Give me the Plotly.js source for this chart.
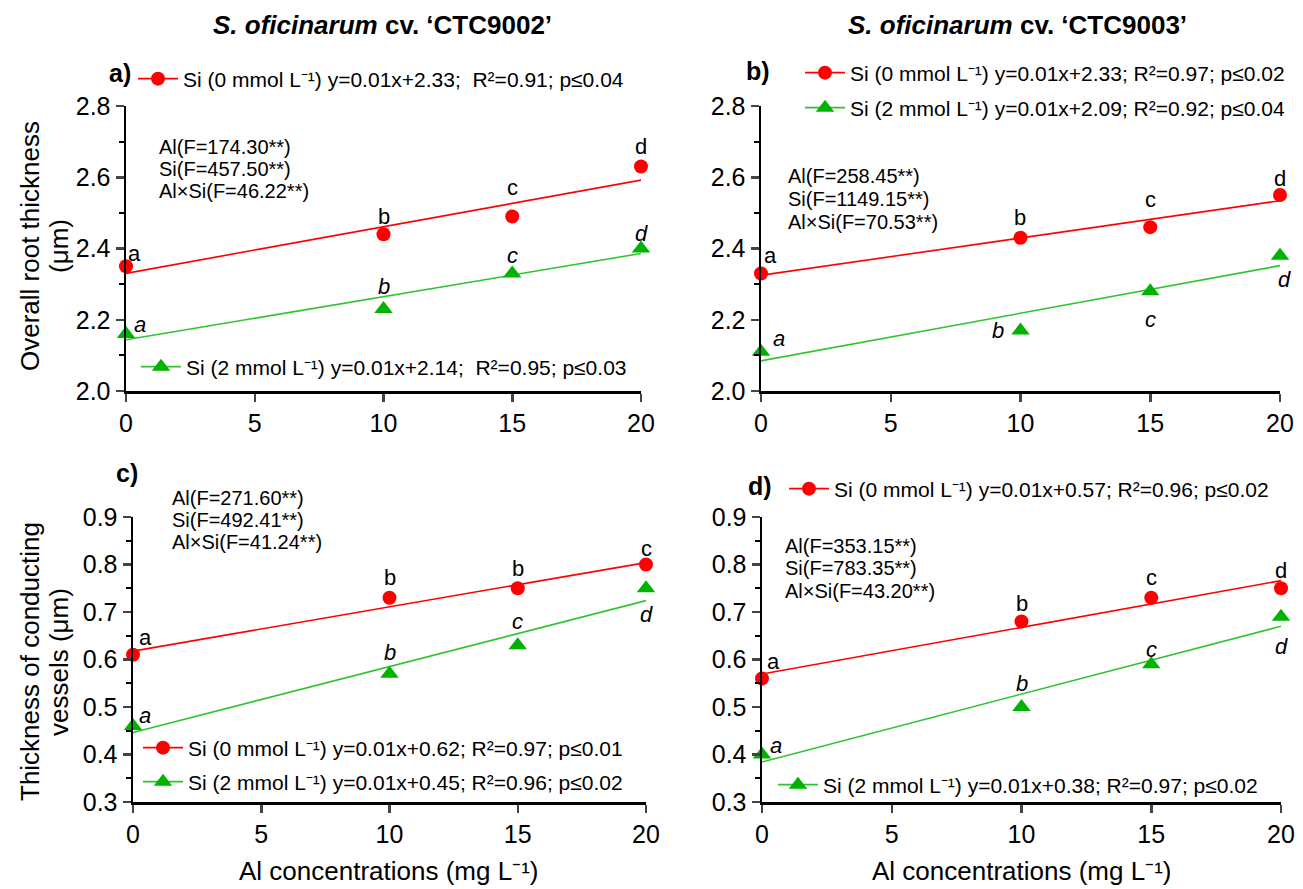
<!DOCTYPE html>
<html>
<head>
<meta charset="utf-8">
<script src="https://cdn.plot.ly/plotly-3.0.1.min.js"></script>
<style>html,body{margin:0;padding:0;background:#fff;}#chart{width:1303px;height:889px;}</style>
</head>
<body>
<div id="chart"></div>
<script>
// ---------------- DATA ----------------
const alConc = [0, 10, 15, 20];                       // Al concentrations (mg L-1)
// a) CTC9002 – overall root thickness (µm)
const root9002_Si0 = [2.35, 2.44, 2.49, 2.63];
const root9002_Si2 = [2.16, 2.23, 2.33, 2.40];
// b) CTC9003 – overall root thickness (µm)
const root9003_Si0 = [2.33, 2.43, 2.46, 2.55];
const root9003_Si2 = [2.11, 2.17, 2.28, 2.38];
// c) CTC9002 – thickness of conducting vessels (µm)
const vess9002_Si0 = [0.61, 0.73, 0.75, 0.80];
const vess9002_Si2 = [0.46, 0.57, 0.63, 0.75];
// d) CTC9003 – thickness of conducting vessels (µm)
const vess9003_Si0 = [0.56, 0.68, 0.73, 0.75];
const vess9003_Si2 = [0.40, 0.50, 0.59, 0.69];

// significance letters
const letA_Si0 = ['a','b','c','d'];
const letA_Si2 = ['a','b','c','d'];
const letB_Si0 = ['a','b','c','d'];
const letB_Si2 = ['a','b','c','d'];
const letC_Si0 = ['a','b','b','c'];
const letC_Si2 = ['a','b','c','d'];
const letD_Si0 = ['a','b','c','d'];
const letD_Si2 = ['a','b','c','d'];

// legend texts
const legA_Si0 = 'Si (0 mmol L⁻¹) y=0.01x+2.33;  R²=0.91; p≤0.04';
const legA_Si2 = 'Si (2 mmol L⁻¹) y=0.01x+2.14;  R²=0.95; p≤0.03';
const legB_Si0 = 'Si (0 mmol L⁻¹) y=0.01x+2.33; R²=0.97; p≤0.02';
const legB_Si2 = 'Si (2 mmol L⁻¹) y=0.01x+2.09; R²=0.92; p≤0.04';
const legC_Si0 = 'Si (0 mmol L⁻¹) y=0.01x+0.62; R²=0.97; p≤0.01';
const legC_Si2 = 'Si (2 mmol L⁻¹) y=0.01x+0.45; R²=0.96; p≤0.02';
const legD_Si0 = 'Si (0 mmol L⁻¹) y=0.01x+0.57; R²=0.96; p≤0.02';
const legD_Si2 = 'Si (2 mmol L⁻¹) y=0.01x+0.38; R²=0.97; p≤0.02';

// ANOVA texts
const anovaA = ['Al(F=174.30**)', 'Si(F=457.50**)', 'Al×Si(F=46.22**)'];
const anovaB = ['Al(F=258.45**)', 'Si(F=1149.15**)', 'Al×Si(F=70.53**)'];
const anovaC = ['Al(F=271.60**)', 'Si(F=492.41**)', 'Al×Si(F=41.24**)'];
const anovaD = ['Al(F=353.15**)', 'Si(F=783.35**)', 'Al×Si(F=43.20**)'];

// titles / ticks
const colTitles = ['<i>S. oficinarum</i> cv. ‘CTC9002’', '<i>S. oficinarum</i> cv. ‘CTC9003’'];
const yTitleTop = ['Overall root thickness', '(μm)'];
const yTitleBottom = ['Thickness of conducting', 'vessels (μm)'];
const xTitle = 'Al concentrations (mg L⁻¹)';
const panelLabels = ['a)', 'b)', 'c)', 'd)'];
const xTicks = [0, 5, 10, 15, 20];

// ---------------- STYLE / LAYOUT ----------------
const W = 1303, H = 889;
const FONT = 'Liberation Sans, Arial, sans-serif';
const RED = '#ff0000', GREEN = '#00b300', GREEN_LINE = '#2ec42e';
const px = x => x / W;
const py = y => 1 - y / H;

function linfit(x, y) {
  const n = x.length;
  const mx = x.reduce((a, b) => a + b, 0) / n;
  const my = y.reduce((a, b) => a + b, 0) / n;
  let sxy = 0, sxx = 0;
  for (let i = 0; i < n; i++) { sxy += (x[i] - mx) * (y[i] - my); sxx += (x[i] - mx) ** 2; }
  const b = sxy / sxx, a = my - b * mx;
  const xs = [Math.min(...x), Math.max(...x)];
  return { x: xs, y: xs.map(v => a + b * v) };
}

const panels = [
  { ax: '', s0: root9002_Si0, s2: root9002_Si2, l0: letA_Si0, l2: letA_Si2, leg0: legA_Si0, leg2: legA_Si2,
    lg0: 'legend', lg2: 'legend2',
    off0: [[8,13],[0,18],[0,29],[0,20]], off2: [[14,10],[0,23],[0,18],[0,15]] },
  { ax: '2', s0: root9003_Si0, s2: root9003_Si2, l0: letB_Si0, l2: letB_Si2, leg0: legB_Si0, leg2: legB_Si2,
    lg0: 'legend3', lg2: 'legend4',
    off0: [[10,18],[0,20],[0,28],[0,17]], off2: [[18,13],[-22,0],[0,-28],[4,-24]] },
  { ax: '3', s0: vess9002_Si0, s2: vess9002_Si2, l0: letC_Si0, l2: letC_Si2, leg0: legC_Si0, leg2: legC_Si2,
    lg0: 'legend5', lg2: 'legend6',
    off0: [[12,17],[0,20],[0,20],[0,16]], off2: [[12,11],[0,21],[0,24],[0,-26]] },
  { ax: '4', s0: vess9003_Si0, s2: vess9003_Si2, l0: letD_Si0, l2: letD_Si2, leg0: legD_Si0, leg2: legD_Si2,
    lg0: 'legend7', lg2: 'legend8',
    off0: [[11,17],[0,18],[0,20],[0,18]], off2: [[14,9],[0,24],[0,15],[0,-30]] }
];

const traces = [];
const annotations = [];

panels.forEach(p => {
  const xa = 'x' + p.ax, ya = 'y' + p.ax;
  const f0 = linfit(alConc, p.s0), f2 = linfit(alConc, p.s2);
  traces.push({ x: f0.x, y: f0.y, xaxis: xa, yaxis: ya, mode: 'lines', line: { color: RED, width: 1.6 }, showlegend: false, hoverinfo: 'skip', cliponaxis: false });
  traces.push({ x: f2.x, y: f2.y, xaxis: xa, yaxis: ya, mode: 'lines', line: { color: GREEN_LINE, width: 1.6 }, showlegend: false, hoverinfo: 'skip', cliponaxis: false });
  traces.push({ x: alConc, y: p.s0, xaxis: xa, yaxis: ya, mode: 'markers', marker: { symbol: 'circle', size: 14, color: RED }, showlegend: false, cliponaxis: false });
  traces.push({ x: alConc, y: p.s2, xaxis: xa, yaxis: ya, mode: 'markers', marker: { symbol: 'triangle-up', size: 16, color: GREEN }, showlegend: false, cliponaxis: false });
  // legend entries
  traces.push({ x: [null], y: [null], xaxis: xa, yaxis: ya, mode: 'lines+markers', name: p.leg0, legend: p.lg0,
    line: { color: RED, width: 1.6 }, marker: { symbol: 'circle', size: 14, color: RED }, showlegend: true });
  traces.push({ x: [null], y: [null], xaxis: xa, yaxis: ya, mode: 'lines+markers', name: p.leg2, legend: p.lg2,
    line: { color: GREEN_LINE, width: 1.6 }, marker: { symbol: 'triangle-up', size: 16, color: GREEN }, showlegend: true });
  // letters
  alConc.forEach((xv, i) => {
    annotations.push({ xref: xa, yref: ya, x: xv, y: p.s0[i], text: p.l0[i], showarrow: false,
      xanchor: 'center', yanchor: 'middle',
      xshift: p.off0[i][0], yshift: p.off0[i][1], font: { family: FONT, size: 22, color: '#000' } });
    annotations.push({ xref: xa, yref: ya, x: xv, y: p.s2[i], text: p.l2[i], showarrow: false,
      xanchor: 'center', yanchor: 'middle',
      xshift: p.off2[i][0], yshift: p.off2[i][1], font: { family: FONT, size: 22, color: '#000', style: 'italic' } });
  });
});

// legend boxes (symbol start x, centre y in px)
const legendPos = {
  legend: [138, 79], legend2: [141, 367],
  legend3: [805, 73], legend4: [805, 108],
  legend5: [143, 748], legend6: [143, 782],
  legend7: [789, 489], legend8: [778, 785]
};

function mkAxisX(dom, yref) {
  return { domain: dom, anchor: yref, range: [0, 20], tickvals: xTicks, ticks: 'outside', ticklen: 8, tickwidth: 2.5,
    showline: true, linewidth: 2.5, linecolor: '#000', showgrid: false, zeroline: false,
    tickfont: { family: FONT, size: 25, color: '#000' }, fixedrange: true };
}
function mkAxisY(dom, xref, range, dtick, minor) {
  return { domain: dom, anchor: xref, range: range, dtick: dtick, tick0: range[0], tickformat: '.1f',
    ticks: 'outside', ticklen: 8, tickwidth: 2.5, showline: true, linewidth: 2.5, linecolor: '#000',
    showgrid: false, zeroline: false, tickfont: { family: FONT, size: 25, color: '#000' },
    minor: { dtick: minor, ticks: 'outside', ticklen: 5, tickwidth: 2, tickcolor: '#000', showgrid: false },
    fixedrange: true };
}

const topY = [py(391), py(106)];
const botY = [py(802), py(517)];

const layout = {
  width: W, height: H,
  margin: { l: 0, r: 0, t: 0, b: 0 },
  paper_bgcolor: '#fff', plot_bgcolor: 'rgba(0,0,0,0)',
  showlegend: true, hovermode: false,
  font: { family: FONT, color: '#000' },
  xaxis: mkAxisX([px(126), px(641)], 'y'),
  yaxis: mkAxisY(topY, 'x', [2.0, 2.8], 0.2, 0.1),
  xaxis2: mkAxisX([px(761), px(1280)], 'y2'),
  yaxis2: mkAxisY(topY, 'x2', [2.0, 2.8], 0.2, 0.1),
  xaxis3: mkAxisX([px(133), px(646)], 'y3'),
  yaxis3: mkAxisY(botY, 'x3', [0.3, 0.9], 0.1, 0.05),
  xaxis4: mkAxisX([px(762), px(1281)], 'y4'),
  yaxis4: mkAxisY(botY, 'x4', [0.3, 0.9], 0.1, 0.05),
  annotations: annotations
};

Object.keys(legendPos).forEach(k => {
  layout[k] = { x: px(legendPos[k][0] - 5), y: py(legendPos[k][1]), xanchor: 'left', yanchor: 'middle',
    bgcolor: 'rgba(0,0,0,0)', borderwidth: 0, itemwidth: 40, font: { family: FONT, size: 21, color: '#000' },
    itemclick: false, itemdoubleclick: false };
});

function paperText(x, y, text, font, xanchor, textangle) {
  annotations.push({ xref: 'paper', yref: 'paper', x: px(x), y: py(y), text: text, showarrow: false,
    xanchor: xanchor || 'center', yanchor: 'middle', textangle: textangle || 0,
    font: Object.assign({ family: FONT, color: '#000' }, font) });
}

// column titles
paperText(382, 25, colTitles[0], { size: 26, weight: 'bold' });
paperText(1018, 25, colTitles[1], { size: 26, weight: 'bold' });
// panel labels
[[120, 73], [758, 71], [127, 473], [760, 486]].forEach(([x, y], i) => paperText(x, y, panelLabels[i], { size: 25, weight: 'bold' }));
// ANOVA text
[[anovaA, 157, [147, 169, 191]], [anovaB, 786, [176, 199, 222]], [anovaC, 170, [498, 520, 542]], [anovaD, 783, [546, 568, 591]]]
  .forEach(([txt, x, ys]) => txt.forEach((t, i) => paperText(x, ys[i], t, { size: 20 }, 'left')));
// y titles
paperText(30, 246, yTitleTop[0], { size: 26 }, 'center', -90);
paperText(59, 246, yTitleTop[1], { size: 26 }, 'center', -90);
paperText(30, 662, yTitleBottom[0], { size: 26 }, 'center', -90);
paperText(59, 662, yTitleBottom[1], { size: 26 }, 'center', -90);
// x titles
paperText(389, 871, xTitle, { size: 26 });
paperText(1021, 871, xTitle, { size: 26 });

Plotly.newPlot('chart', traces, layout, { staticPlot: true, displayModeBar: false });
</script>
</body>
</html>
